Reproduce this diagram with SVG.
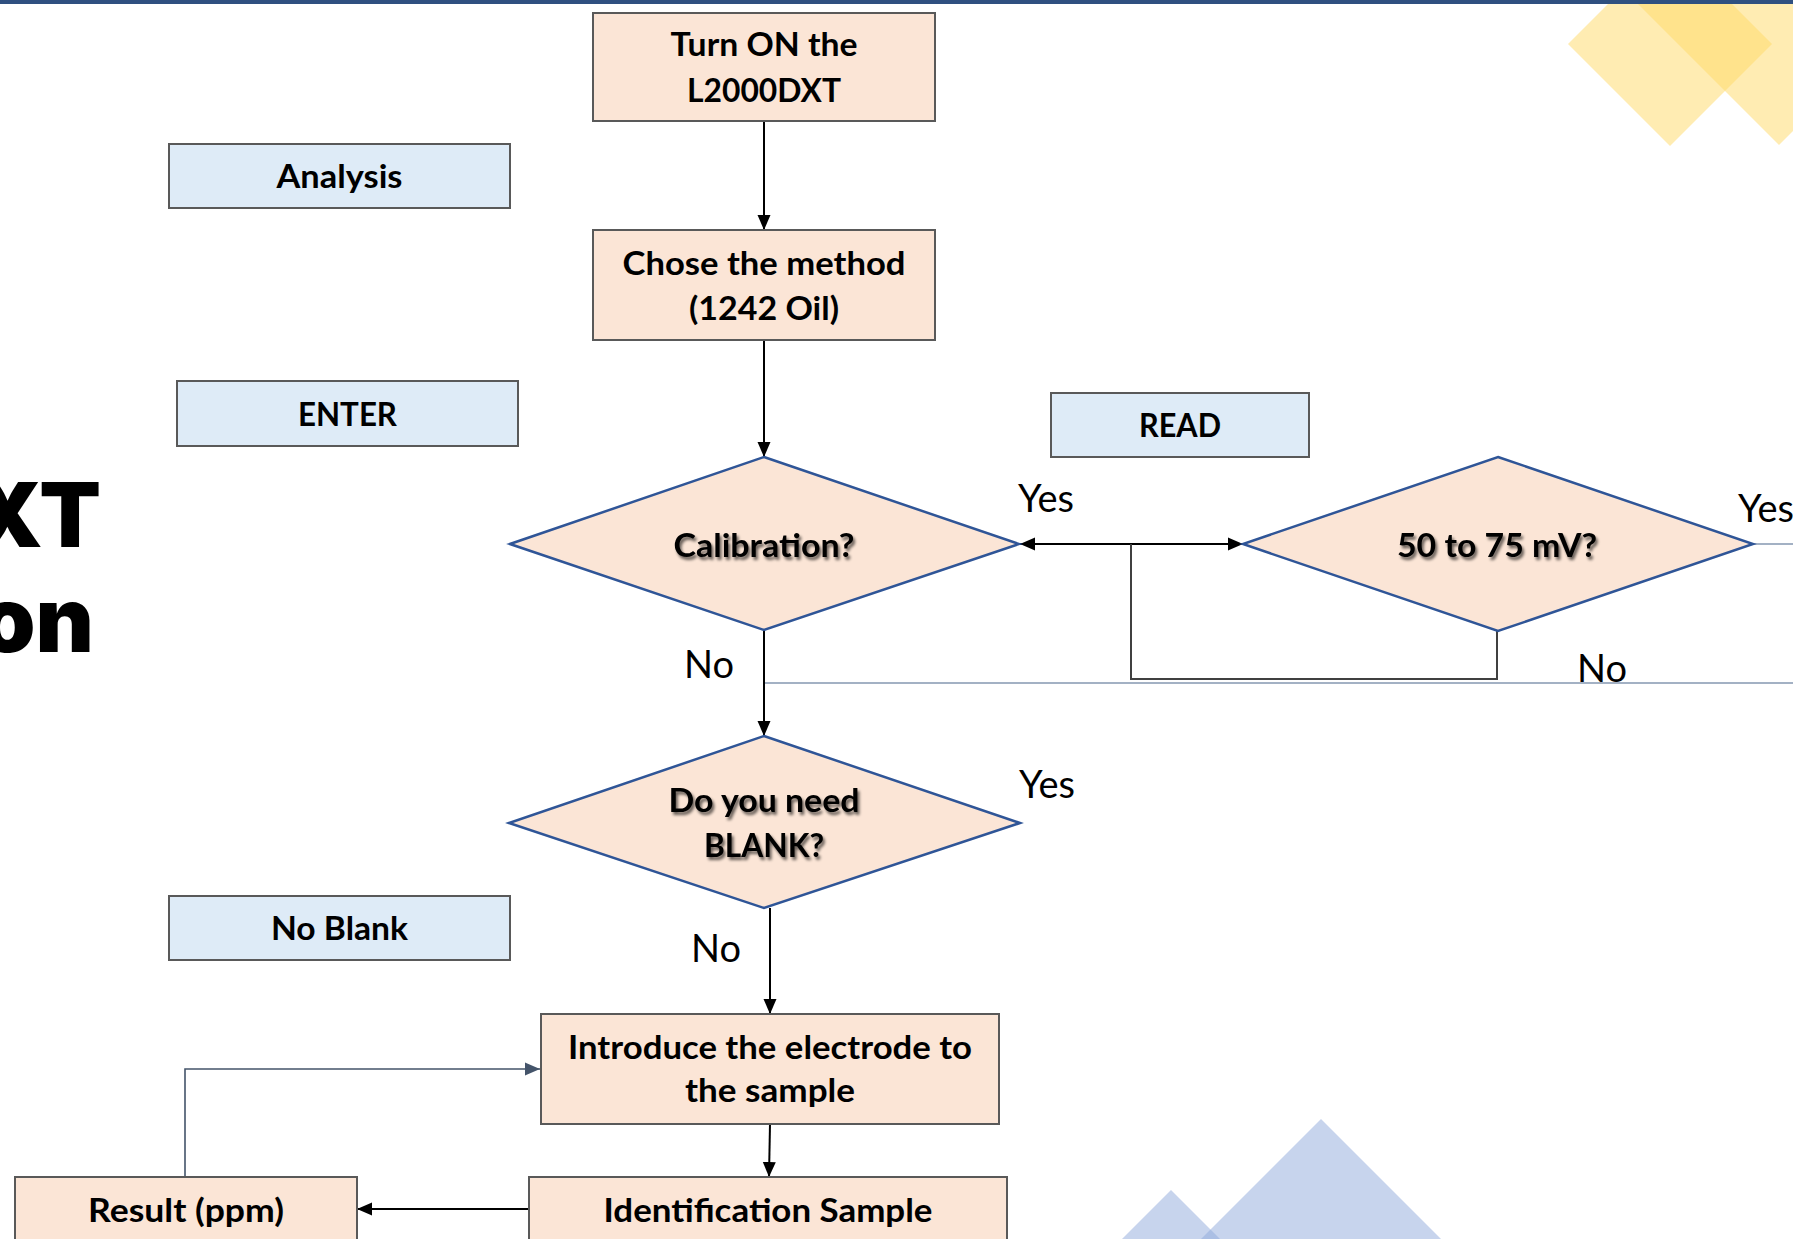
<svg xmlns="http://www.w3.org/2000/svg" width="1793" height="1239" viewBox="0 0 1793 1239">
<style>
.box{fill:#FBE5D6;stroke:#595959;stroke-width:2}
.note{fill:#DEEBF7;stroke:#595959;stroke-width:2}
.dia{fill:#FBE5D6;stroke:#2F5597;stroke-width:2.5}
.t{font-family:Lato,"Liberation Sans",sans-serif;font-weight:700;font-size:33px;fill:#000;text-anchor:middle}
.lbl{font-family:Lato,"Liberation Sans",sans-serif;font-weight:400;font-size:38px;fill:#000}
.title{font-family:Inter,"Liberation Sans",sans-serif;font-weight:900;font-size:90px;fill:#000;text-anchor:end}
.k{fill:none;stroke:#000;stroke-width:2}
.ythin{fill:none;stroke:#8497B0;stroke-width:1.6}
</style>
<defs>
<marker id="ah" markerUnits="userSpaceOnUse" markerWidth="16" markerHeight="14" refX="15" refY="7" orient="auto-start-reverse" viewBox="0 0 16 14">
<path d="M0,0.5 L15,7 L0,13.5 Z" fill="#000"/>
</marker>
<marker id="ahs" markerUnits="userSpaceOnUse" markerWidth="16" markerHeight="14" refX="15" refY="7" orient="auto" viewBox="0 0 16 14">
<path d="M0,0.5 L15,7 L0,13.5 Z" fill="#44546A"/>
</marker>
<filter id="sh" x="-10%" y="-30%" width="120%" height="160%">
<feGaussianBlur in="SourceAlpha" stdDeviation="1.6"/>
<feOffset dx="2" dy="2.5" result="b"/>
<feComponentTransfer><feFuncA type="linear" slope="0.6"/></feComponentTransfer>
<feMerge><feMergeNode/><feMergeNode in="SourceGraphic"/></feMerge>
</filter>
</defs>
<rect width="1793" height="1239" fill="#fff"/>
<g id="decor">
<polygon points="1670,-58 1772,44 1670,146 1568,44" fill="#FFD966" fill-opacity="0.5"/>
<polygon points="1779,-153 1928,-4 1779,145 1630,-4" fill="#FFD966" fill-opacity="0.5"/>
<polygon points="1321,1119 1461,1259 1181,1259" fill="#8FAADC" fill-opacity="0.5"/>
<polygon points="1171,1190 1240,1259 1102,1259" fill="#8FAADC" fill-opacity="0.5"/>
<rect x="0" y="0" width="1793" height="4" fill="#2F5080"/>
<text class="title" x="101" y="547">XT</text>
<text class="title" x="94" y="652">on</text>
</g>
<g id="connectors">
<line class="k" x1="764" y1="121" x2="764" y2="230" marker-end="url(#ah)"/>
<line class="k" x1="764" y1="340" x2="764" y2="457" marker-end="url(#ah)"/>
<line class="k" x1="1020" y1="544" x2="1243" y2="544" stroke-width="2.5" marker-start="url(#ah)" marker-end="url(#ah)"/>
<polyline points="1131,544 1131,679 1497,679 1497,631" fill="none" stroke="#404040" stroke-width="2"/>
<line class="ythin" x1="764" y1="683" x2="1793" y2="683"/>
<line class="ythin" x1="1753" y1="544" x2="1793" y2="544"/>
<line class="k" x1="764" y1="630" x2="764" y2="736" marker-end="url(#ah)"/>
<line class="k" x1="770" y1="908" x2="770" y2="1014" marker-end="url(#ah)"/>
<line class="k" x1="770" y1="1124" x2="769" y2="1177" marker-end="url(#ah)"/>
<line class="k" x1="529" y1="1209" x2="357" y2="1209" stroke-width="2.5" marker-end="url(#ah)"/>
<polyline points="185,1176 185,1069 540,1069" fill="none" stroke="#44546A" stroke-width="1.6" marker-end="url(#ahs)"/>
<text class="lbl" x="1018" y="512">Yes</text>
<text class="lbl" x="1738" y="522">Yes</text>
<text class="lbl" x="684" y="678">No</text>
<text class="lbl" x="1577" y="682">No</text>
<text class="lbl" x="1019" y="798">Yes</text>
<text class="lbl" x="691" y="962">No</text>
</g>
<g id="turn-on">
<rect class="box" x="593" y="13" width="342" height="108"/>
<text class="t" x="764" y="56" textLength="187" lengthAdjust="spacingAndGlyphs">Turn ON the</text>
<text class="t" x="764" y="102" textLength="154" lengthAdjust="spacingAndGlyphs">L2000DXT</text>
</g>
<g id="analysis">
<rect class="note" x="169" y="144" width="341" height="64"/>
<text class="t" x="339.5" y="188" textLength="126" lengthAdjust="spacingAndGlyphs">Analysis</text>
</g>
<g id="chose-method">
<rect class="box" x="593" y="230" width="342" height="110"/>
<text class="t" x="764" y="275" textLength="283" lengthAdjust="spacingAndGlyphs">Chose the method</text>
<text class="t" x="764" y="320" textLength="150" lengthAdjust="spacingAndGlyphs">(1242 Oil)</text>
</g>
<g id="enter">
<rect class="note" x="177" y="381" width="341" height="65"/>
<text class="t" x="347.5" y="426" textLength="99" lengthAdjust="spacingAndGlyphs">ENTER</text>
</g>
<g id="read">
<rect class="note" x="1051" y="393" width="258" height="64"/>
<text class="t" x="1180" y="437" textLength="82" lengthAdjust="spacingAndGlyphs">READ</text>
</g>
<g id="calibration">
<polygon class="dia" points="764,457 1019,544 764,630 510,544"/>
<text class="t" x="764" y="557" textLength="181" lengthAdjust="spacingAndGlyphs" filter="url(#sh)">Calibration?</text>
</g>
<g id="mv-check">
<polygon class="dia" points="1498,457 1753,544 1498,631 1243,544"/>
<text class="t" x="1497" y="557" textLength="200" lengthAdjust="spacingAndGlyphs" filter="url(#sh)">50 to 75 mV?</text>
</g>
<g id="blank">
<polygon class="dia" points="764,736 1020,823 764,908 509,823"/>
<text class="t" x="764" y="812" textLength="191" lengthAdjust="spacingAndGlyphs" filter="url(#sh)">Do you need</text>
<text class="t" x="764" y="857" textLength="120" lengthAdjust="spacingAndGlyphs" filter="url(#sh)">BLANK?</text>
</g>
<g id="no-blank">
<rect class="note" x="169" y="896" width="341" height="64"/>
<text class="t" x="339.5" y="940" textLength="137" lengthAdjust="spacingAndGlyphs">No Blank</text>
</g>
<g id="introduce">
<rect class="box" x="541" y="1014" width="458" height="110"/>
<text class="t" x="770" y="1059" textLength="404" lengthAdjust="spacingAndGlyphs">Introduce the electrode to</text>
<text class="t" x="770" y="1102" textLength="170" lengthAdjust="spacingAndGlyphs">the sample</text>
</g>
<g id="identification">
<rect class="box" x="529" y="1177" width="478" height="80"/>
<text class="t" x="768" y="1222" textLength="329" lengthAdjust="spacingAndGlyphs">Identification Sample</text>
</g>
<g id="result">
<rect class="box" x="15" y="1177" width="342" height="80"/>
<text class="t" x="186" y="1222" textLength="196" lengthAdjust="spacingAndGlyphs">Result (ppm)</text>
</g>
</svg>
